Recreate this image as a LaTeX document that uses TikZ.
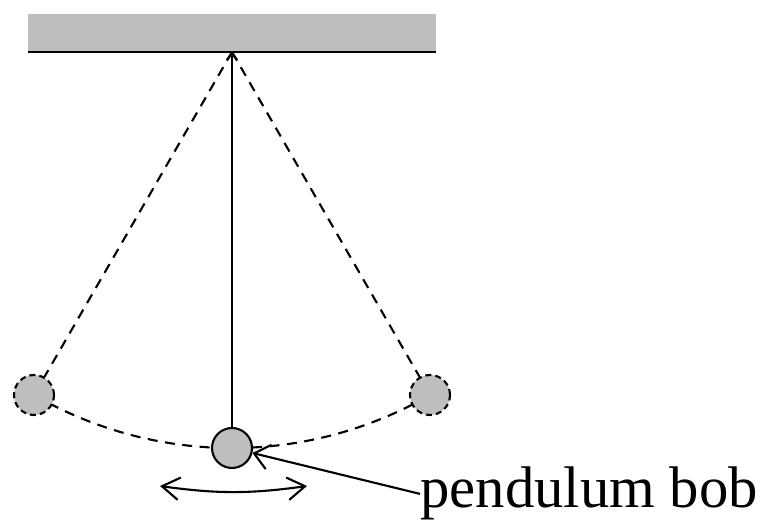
\documentclass[tikz,border=0pt]{standalone}
\usepackage{fontspec}
\setmainfont{Liberation Serif}
\usetikzlibrary{positioning,arrows.meta}
\definecolor{bobgray}{RGB}{190,190,192}

\begin{document}
\begin{tikzpicture}[x=0.02cm,y=0.02cm]
	\tikzset{
		bob/.style={circle, draw=black, fill=bobgray, line width=1.2pt,
			minimum size=0.8cm, inner sep=0pt},
		ghost/.style={bob, dash pattern=on 0.12cm off 0.08cm},
		swing/.style={dash pattern=on 0.2cm off 0.15cm, line width=1.2pt},
		string/.style={-{Straight Barb[length=1.2mm,width=2mm]}, line width=1.2pt},
		pointer/.style={-{Straight Barb[length=3mm,width=5mm]}, line width=1.2pt},
		sway/.style={{Straight Barb[length=3.5mm,width=4.5mm]}-{Straight Barb[length=3.5mm,width=4.5mm]},
			line width=1.2pt}
	}
	\useasboundingbox (0,0) rectangle (766,523);
	
	% CEILING
	\fill[bobgray] (28,472) rectangle (436,509);
	\draw[line width=1.6pt] (28,471) -- (436,471);
	\coordinate (pivot) at (232,471);
	
	% PATH OF THE BOB
	\draw[swing] (34,128) arc[start angle=-120, end angle=-60, radius=7.92cm];
	
	% BOBS
	\node[bob] (b0) at (232,75) {};
	\node[ghost] (bl) at (34,128) {};
	\node[ghost] (br) at (430,128) {};
	
	\draw[string] (b0) -- (pivot);
	\draw[swing] (pivot) -- (bl);
	\draw[swing] (pivot) -- (br);
	
	% LABEL
	\node[font=\fontsize{33.4}{40}\selectfont, anchor=base west, inner sep=0pt]
		(lbl) at (420,15) {pendulum bob};
	\draw[pointer] (lbl.west) -- (b0);
	
	\coordinate (sl) at (160,37);
	\coordinate (sr) at (307,37);
	\draw[sway] (sl) to[bend right=8] (sr);
\end{tikzpicture}
\end{document}
